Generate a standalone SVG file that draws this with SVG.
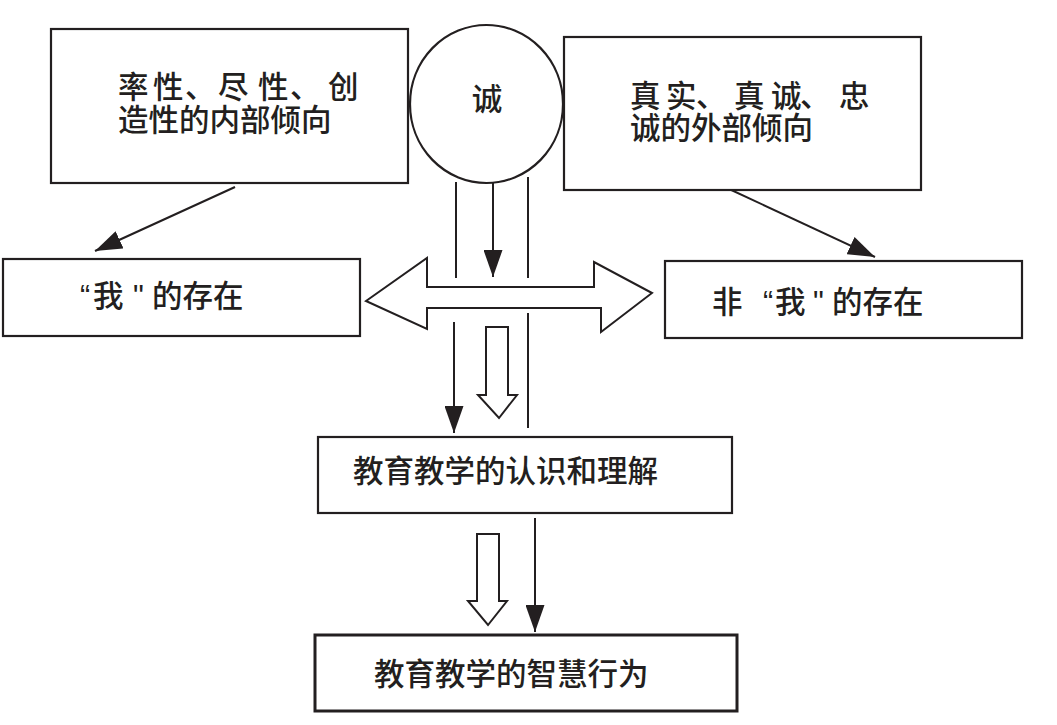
<svg xmlns="http://www.w3.org/2000/svg" width="1057" height="725" viewBox="0 0 1057 725">
<style>
.box{fill:#fff;stroke:#231f20;stroke-width:2.2}
.ln{fill:none;stroke:#231f20;stroke-width:2}
.hol{fill:#fff;stroke:#231f20;stroke-width:2;stroke-linejoin:miter}
.t{font-family:"Liberation Sans","Noto Sans CJK SC",sans-serif;font-size:30.5px;font-weight:500;fill:#231f20}
</style>
<defs>
<marker id="ah" viewBox="0 0 27 19" refX="27" refY="9.5" markerWidth="27" markerHeight="19" markerUnits="userSpaceOnUse" orient="auto">
<path d="M0,0 L27,9.5 L0,19 z" fill="#231f20"/>
</marker>
</defs>
<rect width="1057" height="725" fill="#fff"/>
<g id="connectors">
<line class="ln" x1="235" y1="187" x2="95" y2="251" marker-end="url(#ah)"/>
<line class="ln" x1="727" y1="188" x2="875" y2="257" marker-end="url(#ah)"/>
<line class="ln" x1="456" y1="182" x2="456" y2="278"/>
<line class="ln" x1="493" y1="183" x2="493" y2="277" marker-end="url(#ah)"/>
<line class="ln" x1="528" y1="177" x2="528" y2="278"/>
<polygon class="hol" points="366,301 427,258 427,287 594,287 594,262 652,293 601,332 601,308 427,308 427,329"/>
<line class="ln" x1="454" y1="322" x2="454" y2="433" marker-end="url(#ah)"/>
<polygon class="hol" points="486,327 508,327 508,395 517,395 499,418 478,395 486,395"/>
<line class="ln" x1="528" y1="313" x2="528" y2="428"/>
<polygon class="hol" points="477,534 499,534 499,601 507,601 488,625 468,601 477,601"/>
<line class="ln" x1="535" y1="518" x2="535" y2="632" marker-end="url(#ah)"/>
</g>
<g id="node-inner">
<rect class="box" x="51" y="29" width="357" height="154"/>
<text class="t" y="98" x="118 153 185 218 258 290 328">率性、尽性、创</text>
<text class="t" x="118" y="131">造性的内部倾向</text>
</g>
<g id="node-cheng">
<ellipse class="box" cx="486.5" cy="104" rx="76.5" ry="79"/>
<text class="t" x="487" y="110" text-anchor="middle">诚</text>
</g>
<g id="node-outer">
<rect class="box" x="564" y="37" width="357" height="153"/>
<text class="t" y="107" x="630 666 696 734 771 800 839">真实、真诚、忠</text>
<text class="t" x="630" y="139">诚的外部倾向</text>
</g>
<g id="node-self">
<rect class="box" x="3" y="259" width="357" height="77"/>
<text class="t" x="80" y="307">“<tspan x="93">我</tspan><tspan x="133">"</tspan><tspan x="152">的存在</tspan></text>
</g>
<g id="node-nonself">
<rect class="box" x="665" y="261" width="357" height="77"/>
<text class="t" x="712" y="313">非<tspan x="763">“</tspan><tspan x="775">我</tspan><tspan x="813">"</tspan><tspan x="832">的存在</tspan></text>
</g>
<g id="node-understanding">
<rect class="box" x="318" y="437" width="414" height="76"/>
<text class="t" x="353" y="482">教育教学的认识和理解</text>
</g>
<g id="node-wisdom">
<rect class="box" x="315" y="635" width="422" height="76" style="stroke-width:3"/>
<text class="t" x="374" y="685">教育教学的智慧行为</text>
</g>
</svg>
